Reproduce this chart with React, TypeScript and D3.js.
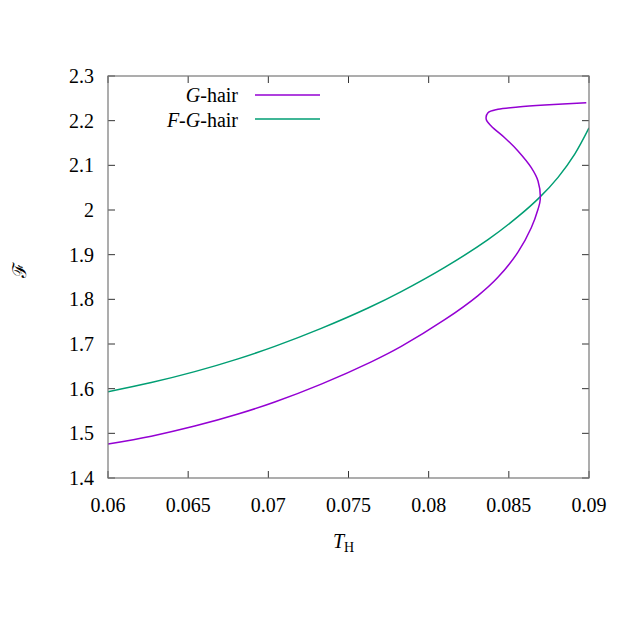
import React from 'react'
import * as d3 from 'd3'

// G-hair branch (it folds back near T_H ~ 0.087)
const gHairT = [0.06, 0.0627, 0.06541, 0.06811, 0.0704, 0.0733, 0.07642, 0.07829, 0.081, 0.08308, 0.08432, 0.08557, 0.0864, 0.08682, 0.08696, 0.08682, 0.0864, 0.08557, 0.08474, 0.0839, 0.08359, 0.0837, 0.08432, 0.08557, 0.08724, 0.08983]
const gHairF = [1.4761, 1.4937, 1.5162, 1.5432, 1.5702, 1.6102, 1.6601, 1.6947, 1.7543, 1.8084, 1.8493, 1.9056, 1.9604, 2.0016, 2.024, 2.0649, 2.0947, 2.1321, 2.1619, 2.1881, 2.2031, 2.2178, 2.2254, 2.2306, 2.2351, 2.2402]
// F-G-hair branch
const fgHairT = [0.06, 0.0627, 0.06541, 0.06811, 0.0704, 0.0733, 0.07622, 0.07829, 0.081, 0.0837, 0.08557, 0.08692, 0.08807, 0.08911, 0.09]
const fgHairF = [1.5932, 1.6137, 1.6381, 1.6667, 1.6946, 1.7349, 1.7805, 1.8173, 1.8715, 1.9336, 1.985, 2.0282, 2.0731, 2.1251, 2.1838]

const xTicks = [0.06, 0.065, 0.07, 0.075, 0.08, 0.085, 0.09]
const xTickLabels = ['0.06', '0.065', '0.07', '0.075', '0.08', '0.085', '0.09']
const yTicks = [1.4, 1.5, 1.6, 1.7, 1.8, 1.9, 2, 2.1, 2.2, 2.3]
const yTickLabels = ['1.4', '1.5', '1.6', '1.7', '1.8', '1.9', '2', '2.1', '2.2', '2.3']

const colors = { g: '#9400d3', fg: '#009e73' }
const font = '"Liberation Serif", "DejaVu Serif", serif'

export default function App() {
  const margin = { top: 76, right: 41, bottom: 152, left: 108 }
  const width = 630
  const height = 630
  const innerW = width - margin.left - margin.right
  const innerH = height - margin.top - margin.bottom

  const x = d3.scaleLinear().domain([0.06, 0.09]).range([0, innerW])
  const y = d3.scaleLinear().domain([1.4, 2.3]).range([innerH, 0])

  const line = d3
    .line<[number, number]>()
    .x((d) => x(d[0]))
    .y((d) => y(d[1]))
    .curve(d3.curveCatmullRom.alpha(0.5))

  const gPts: [number, number][] = gHairT.map((t, i) => [t, gHairF[i]])
  const fgPts: [number, number][] = fgHairT.map((t, i) => [t, fgHairF[i]])
  const tick = 7

  return (
    <svg width={width} height={height} style={{ position: 'absolute', left: 0, top: 0, background: '#fff' }}>
      <g transform={`translate(${margin.left},${margin.top})`} fontFamily={font} fontSize={20} fill="#000">
        <defs>
          <clipPath id="plotClip">
            <rect x={0} y={0} width={innerW} height={innerH} />
          </clipPath>
        </defs>
        {xTicks.map((t, i) => (
          <g key={'x' + i}>
            <line x1={x(t)} x2={x(t)} y1={innerH} y2={innerH - tick} stroke="#333" />
            <line x1={x(t)} x2={x(t)} y1={0} y2={tick} stroke="#333" />
            <text x={x(t)} y={innerH + 34} textAnchor="middle">{xTickLabels[i]}</text>
          </g>
        ))}
        {yTicks.map((t, i) => (
          <g key={'y' + i}>
            <line x1={0} x2={tick} y1={y(t)} y2={y(t)} stroke="#333" />
            <line x1={innerW} x2={innerW - tick} y1={y(t)} y2={y(t)} stroke="#333" />
            <text x={-14} y={y(t) + 7} textAnchor="end">{yTickLabels[i]}</text>
          </g>
        ))}
        <g clipPath="url(#plotClip)">
          <path d={line(fgPts) || ''} fill="none" stroke={colors.fg} strokeWidth={1.5} />
          <path d={line(gPts) || ''} fill="none" stroke={colors.g} strokeWidth={1.5} />
        </g>
        <rect x={0} y={0} width={innerW} height={innerH} fill="none" stroke="#777" strokeWidth={1.2} />

        {/* legend */}
        <text x={130} y={26} textAnchor="end">
          <tspan fontStyle="italic">G</tspan>-hair
        </text>
        <line x1={147} x2={212} y1={19} y2={19} stroke={colors.g} strokeWidth={1.5} />
        <text x={130} y={51} textAnchor="end">
          <tspan fontStyle="italic">F</tspan>-<tspan fontStyle="italic">G</tspan>-hair
        </text>
        <line x1={147} x2={212} y1={43} y2={43} stroke={colors.fg} strokeWidth={1.5} />

        {/* axis labels */}
        <text x={innerW / 2 - 5} y={innerH + 70} textAnchor="middle">
          <tspan fontStyle="italic">T</tspan>
          <tspan fontSize={14} dy={4}>H</tspan>
        </text>
        <text transform={`translate(${-82},${innerH / 2 - 7}) rotate(-90)`} textAnchor="middle" fontFamily='"DejaVu Serif", serif' fontSize={19}>
          ℱ
        </text>
      </g>
    </svg>
  )
}
